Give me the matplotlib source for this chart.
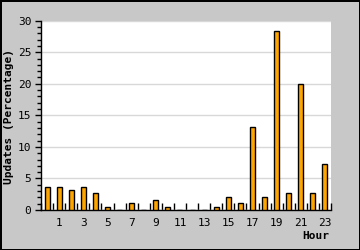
import numpy as np
import matplotlib.pyplot as plt

hours = list(range(24))
updates = [3.6, 3.6, 3.2, 3.6, 2.7, 0.5, 0.0, 1.1, 0.0, 1.6, 0.5, 0.0,
           0.0, 0.0, 0.4, 2.0, 1.1, 13.2, 2.0, 28.4, 2.7, 20.0, 2.7, 7.3]
label_hours = [1, 3, 5, 7, 9, 11, 13, 15, 17, 19, 21, 23]

plt.rcParams['font.family'] = 'DejaVu Sans Mono'

fig = plt.figure(figsize=(3.6, 2.5), dpi=100)
fig.patch.set_facecolor('#c8c8c8')
fig.patch.set_edgecolor('black')
fig.patch.set_linewidth(2)
ax = fig.add_axes([41/360, 1 - 210/250, 290/360, 189.3/250])
ax.set_facecolor('white')

ax.bar(hours, updates, width=0.42, color='#ffa500', edgecolor='black',
       linewidth=1, zorder=3)

ax.set_xlim(-0.5, 23.5)
ax.set_ylim(0, 30)

# grid
ax.set_yticks(np.arange(0, 31, 5))
ax.set_yticks(np.arange(0, 31, 1), minor=True)
ax.yaxis.grid(True, which='major', color='#d8d8d8', linewidth=1)
ax.set_axisbelow(True)
ax.tick_params(axis='y', which='major', direction='out', length=4, width=1,
               labelsize=8, pad=3)
ax.tick_params(axis='y', which='minor', direction='out', length=3, width=1)

ax.set_xticks(label_hours)
ax.set_xticklabels([str(h) for h in label_hours])
ax.set_xticks(np.arange(-0.5, 24, 1), minor=True)
ax.tick_params(axis='x', which='major', length=0, labelsize=8, pad=6)
ax.tick_params(axis='x', which='minor', direction='in', length=5, width=1)

for s in ['top', 'right']:
    ax.spines[s].set_visible(False)
ax.spines['left'].set_linewidth(1)
ax.spines['bottom'].set_linewidth(1)

fig.text(9/360, 1 - 117/250, 'Updates (Percentage)', fontsize=8,
         fontweight='bold', rotation=90, ha='center', va='center')
fig.text(329/360, 1 - 236/250, 'Hour', fontsize=8, fontweight='bold',
         ha='right', va='center')

fig.savefig('out.png', dpi=100, facecolor=fig.get_facecolor(),
            edgecolor=fig.get_edgecolor())
